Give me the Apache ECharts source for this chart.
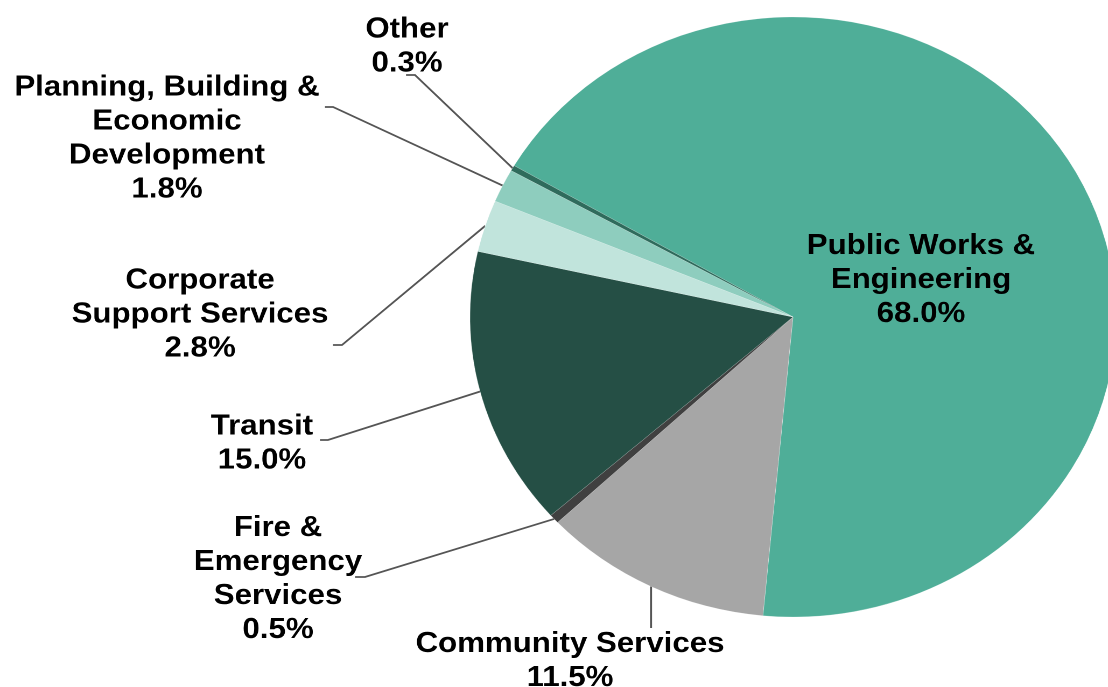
<!DOCTYPE html>
<html>
<head>
<meta charset="utf-8">
<script src="https://cdn.jsdelivr.net/npm/echarts@6/dist/echarts.min.js"></script>
<style>
  html, body { margin: 0; padding: 0; background: #ffffff; overflow: hidden; }
  #wrap { width: 1108px; height: 687px; overflow: hidden; position: relative; }
  #chart { width: 1029px; height: 687px; transform: scaleX(1.0767); transform-origin: 0 0; }
</style>
</head>
<body>
<div id="wrap"><div id="chart"></div></div>
<script>
// ---- data ----
const categories = [
  'Public Works &\nEngineering',
  'Community Services',
  'Fire &\nEmergency\nServices',
  'Transit',
  'Corporate\nSupport Services',
  'Planning, Building &\nEconomic\nDevelopment',
  'Other'
];
const values = [68.0, 11.5, 0.5, 15.0, 2.8, 1.8, 0.3];

// ---- styling / layout ----
const colors = ['#4FAE98', '#A6A6A6', '#404040', '#254F45', '#C1E4DC', '#8ECDBE', '#2F6B5C'];
const CX = 736.5, CY = 317, R = 300, START = 149.7;
// label block centres (chart coords)
const labelPos = [
  [855.4, 280],
  [529.4, 661],
  [258.2, 579],
  [243.3, 443.5],
  [185.8, 314.5],
  [155.1, 138.5],
  [378.0, 46.5]
];
// connector elbows: [near point, far point] (null = no connector)
const elbows = [
  null,
  'vertical',
  [[339.0, 577], [329.7, 577]],
  [[304.6, 440], [297.2, 440]],
  [[317.6, 345], [309.3, 345]],
  [[309.3, 107], [301.8, 107]],
  [[385.4, 75], [377.1, 75]]
];

const total = values.reduce((a, b) => a + b, 0);
function edgePoint(i) {
  let cum = 0;
  for (let k = 0; k < i; k++) cum += values[k];
  const mid = START - (cum + values[i] / 2) / total * 360;
  const rad = mid * Math.PI / 180;
  return [CX + R * Math.cos(rad), CY - R * Math.sin(rad)];
}

const chart = echarts.init(document.getElementById('chart'), null, { devicePixelRatio: 2 });
chart.setOption({
  animation: false,
  backgroundColor: '#ffffff',
  series: [{
    type: 'pie',
    center: [CX, CY],
    radius: [0, R],
    startAngle: START,
    clockwise: true,
    avoidLabelOverlap: false,
    itemStyle: { borderColor: 'rgba(255,255,255,0.35)', borderWidth: 0.5 },
    label: {
      show: true,
      position: 'outside',
      formatter: p => p.name + '\n' + values[p.dataIndex].toFixed(1) + '%',
      fontFamily: '"Liberation Sans", Arial, sans-serif',
      fontWeight: 'bold',
      fontSize: 29,
      lineHeight: 34,
      color: '#000000',
      align: 'center'
    },
    labelLine: {
      show: true,
      lineStyle: { color: '#555555', width: 1.8 }
    },
    labelLayout: function (params) {
      const i = params.dataIndex;
      const res = { x: labelPos[i][0], y: labelPos[i][1], align: 'center', verticalAlign: 'middle' };
      const e = elbows[i];
      if (e === 'vertical') {
        const p0 = edgePoint(i);
        res.labelLinePoints = [p0, [p0[0], p0[1] + 20], [p0[0], 628]];
      } else if (e) {
        res.labelLinePoints = [edgePoint(i), e[0], e[1]];
      }
      return res;
    },
    data: categories.map((name, i) => ({
      name: name,
      value: values[i],
      itemStyle: { color: colors[i] },
      labelLine: { show: i !== 0 }
    }))
  }]
});
</script>
</body>
</html>
